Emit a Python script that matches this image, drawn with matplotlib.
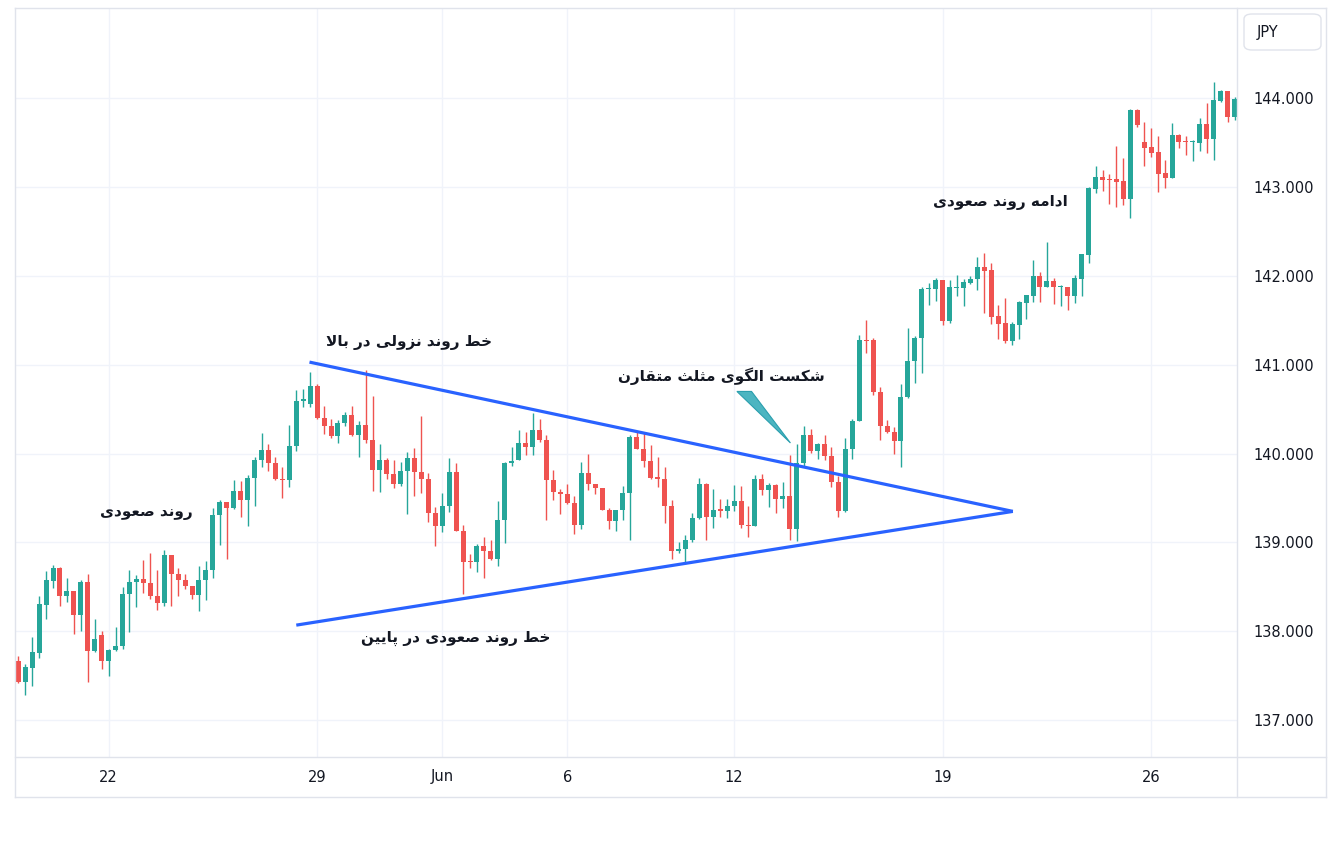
import matplotlib

matplotlib.use("Agg")
import matplotlib.pyplot as plt
from matplotlib.lines import Line2D
from matplotlib.patches import FancyBboxPatch, Polygon

# 4h candles, USD/JPY, mid May -> end of June
opens = [
    137.67, 137.43, 137.59, 137.76, 138.30, 138.57, 138.71, 138.40, 138.45, 138.18,
    138.56, 137.78, 137.96, 137.67, 137.79, 137.83, 138.42, 138.56, 138.59, 138.54,
    138.40, 138.32, 138.86, 138.64, 138.58, 138.51, 138.41, 138.58, 138.69, 139.31,
    139.46, 139.39, 139.58, 139.48, 139.73, 139.93, 140.04, 139.89, 139.71, 139.70,
    140.09, 140.59, 140.56, 140.76, 140.40, 140.31, 140.20, 140.35, 140.43, 140.21,
    140.32, 140.15, 139.82, 139.93, 139.77, 139.66, 139.80, 139.95, 139.79, 139.71,
    139.33, 139.19, 139.41, 139.79, 139.13, 138.79, 138.78, 138.96, 138.90, 138.81,
    139.25, 139.90, 139.93, 140.12, 140.07, 140.27, 140.15, 139.70, 139.57, 139.55,
    139.44, 139.20, 139.78, 139.66, 139.61, 139.37, 139.24, 139.37, 139.56, 140.19,
    140.05, 139.92, 139.73, 139.72, 139.41, 138.90, 138.93, 139.03, 139.28, 139.66,
    139.29, 139.37, 139.36, 139.41, 139.47, 139.20, 139.19, 139.71, 139.59, 139.65,
    139.49, 139.52, 139.15, 139.90, 140.21, 140.03, 140.11, 139.97, 139.68, 139.36,
    140.05, 140.37, 141.28, 141.28, 140.69, 140.31, 140.24, 140.14, 140.64, 141.04,
    141.30, 141.85, 141.85, 141.95, 141.49, 141.86, 141.86, 141.92, 141.96, 142.10,
    142.07, 141.55, 141.47, 141.27, 141.45, 141.70, 141.77, 142.00, 141.87, 141.94,
    141.87, 141.88, 141.77, 141.97, 142.24, 142.98, 143.11, 143.09, 143.09, 143.07,
    142.87, 143.87, 143.51, 143.45, 143.39, 143.16, 143.10, 143.59, 143.52, 143.51,
    143.50, 143.71, 143.54, 143.97, 144.08, 143.79,
]
highs = [
    137.72, 137.63, 137.94, 138.40, 138.68, 138.75, 138.72, 138.60, 138.45, 138.58,
    138.65, 138.14, 138.00, 137.80, 138.05, 138.50, 138.69, 138.63, 138.80, 138.88,
    138.69, 138.92, 138.86, 138.71, 138.65, 138.51, 138.74, 138.79, 139.39, 139.48,
    139.46, 139.70, 139.69, 139.76, 139.96, 140.23, 140.11, 139.96, 139.85, 140.32,
    140.72, 140.73, 140.92, 140.78, 140.54, 140.39, 140.38, 140.47, 140.54, 140.37,
    140.94, 140.65, 140.11, 139.95, 139.93, 139.91, 140.02, 140.06, 140.42, 139.78,
    139.40, 139.56, 139.95, 139.89, 139.20, 138.87, 138.98, 139.06, 139.03, 139.47,
    139.91, 140.08, 140.27, 140.24, 140.46, 140.39, 140.21, 139.82, 139.60, 139.66,
    139.52, 139.91, 140.00, 139.66, 139.61, 139.39, 139.37, 139.64, 140.21, 140.25,
    140.23, 140.10, 139.96, 139.85, 139.48, 139.01, 139.08, 139.33, 139.73, 139.67,
    139.60, 139.49, 139.49, 139.65, 139.64, 139.41, 139.76, 139.77, 139.67, 139.66,
    139.68, 139.98, 140.11, 140.31, 140.28, 140.12, 140.21, 140.07, 139.75, 140.18,
    140.39, 141.34, 141.50, 141.30, 140.75, 140.38, 140.30, 140.78, 141.41, 141.32,
    141.87, 141.92, 141.98, 141.95, 141.95, 142.01, 141.97, 142.00, 142.21, 142.26,
    142.15, 141.67, 141.75, 141.48, 141.72, 141.79, 142.18, 142.04, 142.38, 141.98,
    141.90, 141.88, 142.01, 142.25, 143.00, 143.24, 143.19, 143.15, 143.46, 143.33,
    143.88, 143.88, 143.73, 143.66, 143.57, 143.30, 143.72, 143.60, 143.58, 143.53,
    143.78, 143.95, 144.18, 144.09, 144.08, 144.01,
]
lows = [
    137.42, 137.28, 137.39, 137.70, 138.14, 138.49, 138.28, 138.33, 137.97, 138.00,
    137.43, 137.77, 137.58, 137.50, 137.78, 137.80, 137.99, 138.27, 138.43, 138.36,
    138.24, 138.29, 138.29, 138.40, 138.48, 138.36, 138.23, 138.35, 138.60, 138.97,
    138.81, 139.38, 139.29, 139.19, 139.41, 139.85, 139.80, 139.70, 139.50, 139.63,
    140.03, 140.53, 140.52, 140.39, 140.22, 140.18, 140.12, 140.31, 140.20, 139.96,
    140.12, 139.58, 139.57, 139.71, 139.61, 139.64, 139.32, 139.52, 139.56, 139.23,
    138.96, 139.12, 139.34, 139.13, 138.42, 138.71, 138.67, 138.60, 138.80, 138.74,
    138.99, 139.86, 139.93, 139.99, 139.98, 140.13, 139.25, 139.48, 139.32, 139.43,
    139.10, 139.15, 139.59, 139.55, 139.37, 139.15, 139.13, 139.25, 139.03, 140.05,
    139.85, 139.71, 139.62, 139.22, 138.81, 138.88, 138.76, 139.01, 139.27, 139.03,
    139.16, 139.29, 139.28, 139.36, 139.16, 139.06, 139.19, 139.53, 139.40, 139.33,
    139.39, 139.03, 139.02, 139.86, 140.01, 139.94, 139.93, 139.62, 139.29, 139.34,
    139.94, 140.37, 141.13, 140.66, 140.15, 140.23, 140.00, 139.85, 140.63, 140.80,
    140.91, 141.67, 141.72, 141.45, 141.47, 141.77, 141.66, 141.91, 141.84, 141.58,
    141.46, 141.29, 141.25, 141.22, 141.29, 141.52, 141.71, 141.71, 141.87, 141.68,
    141.66, 141.62, 141.69, 141.77, 142.15, 142.93, 142.96, 142.81, 142.78, 142.80,
    142.65, 143.68, 143.24, 143.34, 142.94, 142.99, 143.10, 143.44, 143.36, 143.29,
    143.41, 143.38, 143.30, 143.96, 143.73, 143.76,
]
closes = [
    137.43, 137.60, 137.77, 138.31, 138.58, 138.71, 138.40, 138.45, 138.18, 138.56,
    137.78, 137.91, 137.67, 137.79, 137.83, 138.42, 138.56, 138.59, 138.54, 138.40,
    138.32, 138.86, 138.64, 138.58, 138.51, 138.41, 138.58, 138.69, 139.31, 139.46,
    139.39, 139.58, 139.48, 139.73, 139.93, 140.04, 139.89, 139.71, 139.70, 140.09,
    140.59, 140.61, 140.76, 140.40, 140.31, 140.20, 140.35, 140.43, 140.21, 140.32,
    140.15, 139.82, 139.93, 139.77, 139.66, 139.80, 139.95, 139.79, 139.71, 139.33,
    139.19, 139.41, 139.79, 139.13, 138.78, 138.78, 138.96, 138.90, 138.81, 139.25,
    139.90, 139.92, 140.12, 140.07, 140.27, 140.15, 139.70, 139.57, 139.55, 139.44,
    139.20, 139.78, 139.66, 139.61, 139.37, 139.24, 139.37, 139.56, 140.19, 140.05,
    139.92, 139.73, 139.72, 139.41, 138.90, 138.93, 139.03, 139.28, 139.66, 139.29,
    139.37, 139.36, 139.41, 139.47, 139.20, 139.19, 139.71, 139.59, 139.65, 139.49,
    139.52, 139.15, 139.90, 140.21, 140.03, 140.11, 139.97, 139.68, 139.36, 140.05,
    140.37, 141.28, 141.27, 140.69, 140.31, 140.24, 140.14, 140.64, 141.04, 141.30,
    141.85, 141.86, 141.95, 141.49, 141.87, 141.87, 141.93, 141.97, 142.10, 142.06,
    141.54, 141.46, 141.27, 141.46, 141.71, 141.79, 142.00, 141.87, 141.94, 141.87,
    141.88, 141.77, 141.98, 142.25, 142.99, 143.11, 143.08, 143.08, 143.06, 142.87,
    143.87, 143.70, 143.44, 143.38, 143.15, 143.10, 143.59, 143.51, 143.51, 143.52,
    143.71, 143.54, 143.98, 144.08, 143.79, 143.99,
]

day_tick_idx = [13, 43, 61, 79, 103, 133, 163]
day_tick_labels = ["22", "29", "Jun", "6", "12", "19", "26"]
price_ticks = [137, 138, 139, 140, 141, 142, 143, 144]

# triangle trend lines (candle index, price)
upper_line = ([41.9, 143.1], [141.03, 139.35])
lower_line = ([40.0, 143.1], [138.07, 139.35])

notes = [
    ("روند صعودی", 18.4, 139.34),
    ("خط روند نزولی در بالا", 56.2, 141.25),
    ("خط روند صعودی در پایین", 63.0, 137.92),
    ("شکست الگوی مثلث متقارن", 101.1, 140.87),
    ("ادامه روند صعودی", 141.3, 142.83),
]

UP = "#26a69a"
DOWN = "#ef5350"
GRID = "#f0f3fa"
BORDER = "#e0e3eb"
TXT = "#131722"

# arabic presentation forms: isolated, final, initial, medial
FORMS = {
    "ا": ("\uFE8D", "\uFE8E", None, None),
    "ب": ("\uFE8F", "\uFE90", "\uFE91", "\uFE92"),
    "پ": ("\uFB56", "\uFB57", "\uFB58", "\uFB59"),
    "ت": ("\uFE95", "\uFE96", "\uFE97", "\uFE98"),
    "ث": ("\uFE99", "\uFE9A", "\uFE9B", "\uFE9C"),
    "خ": ("\uFEA5", "\uFEA6", "\uFEA7", "\uFEA8"),
    "د": ("\uFEA9", "\uFEAA", None, None),
    "ر": ("\uFEAD", "\uFEAE", None, None),
    "ز": ("\uFEAF", "\uFEB0", None, None),
    "س": ("\uFEB1", "\uFEB2", "\uFEB3", "\uFEB4"),
    "ش": ("\uFEB5", "\uFEB6", "\uFEB7", "\uFEB8"),
    "ص": ("\uFEB9", "\uFEBA", "\uFEBB", "\uFEBC"),
    "ط": ("\uFEC1", "\uFEC2", "\uFEC3", "\uFEC4"),
    "ع": ("\uFEC9", "\uFECA", "\uFECB", "\uFECC"),
    "ق": ("\uFED5", "\uFED6", "\uFED7", "\uFED8"),
    "ک": ("\uFB8E", "\uFB8F", "\uFB90", "\uFB91"),
    "گ": ("\uFB92", "\uFB93", "\uFB94", "\uFB95"),
    "ل": ("\uFEDD", "\uFEDE", "\uFEDF", "\uFEE0"),
    "م": ("\uFEE1", "\uFEE2", "\uFEE3", "\uFEE4"),
    "ن": ("\uFEE5", "\uFEE6", "\uFEE7", "\uFEE8"),
    "ه": ("\uFEE9", "\uFEEA", "\uFEEB", "\uFEEC"),
    "و": ("\uFEED", "\uFEEE", None, None),
    "ی": ("\uFBFC", "\uFBFD", "\uFBFE", "\uFBFF"),
}


def _joins_next(c):
    return c in FORMS and FORMS[c][2] is not None


def shape_rtl(text):
    """Very small persian shaper: contextual forms + lam-alef, then reverse."""
    out = []
    i = 0
    n = len(text)
    while i < n:
        c = text[i]
        prev_joins = i > 0 and _joins_next(text[i - 1])
        if c == "ل" and i + 1 < n and text[i + 1] == "ا":
            out.append("\uFEFC" if prev_joins else "\uFEFB")
            i += 2
            continue
        if c not in FORMS:
            out.append(c)
            i += 1
            continue
        nxt_joins = _joins_next(c) and i + 1 < n and text[i + 1] in FORMS
        iso, fin, ini, med = FORMS[c]
        if prev_joins and nxt_joins:
            out.append(med)
        elif prev_joins:
            out.append(fin)
        elif nxt_joins:
            out.append(ini)
        else:
            out.append(iso)
        i += 1
    return "".join(reversed(out))


W, H = 1341, 851
fig = plt.figure(figsize=(W / 100, H / 100), dpi=100)
fig.patch.set_facecolor("white")
ax = fig.add_axes([15 / W, (H - 757) / H, (1237 - 15) / W, (757 - 8) / H])

n = len(opens)
xs = list(range(n))
colors = [UP if c >= o else DOWN for o, c in zip(opens, closes)]
ax.vlines(xs, lows, highs, colors=colors, linewidth=1.0, zorder=3)
bottoms = [min(o, c) for o, c in zip(opens, closes)]
heights = [max(abs(c - o), 0.012) for o, c in zip(opens, closes)]
ax.bar(xs, heights, bottom=bottoms, width=0.72, color=colors, linewidth=0, zorder=4)

ax.plot(*upper_line, color="#2962ff", linewidth=2.3, solid_capstyle="butt", zorder=5)
ax.plot(*lower_line, color="#2962ff", linewidth=2.3, solid_capstyle="butt", zorder=5)

# callout wedge pointing at the breakout
ax.add_patch(Polygon([(103.4, 140.70), (105.5, 140.70), (111.1, 140.12)], closed=True,
                     facecolor="#4cb5c1", edgecolor="#2a9fae", linewidth=0.8, zorder=6))

for text, x, y in notes:
    ax.text(x, y, shape_rtl(text), ha="center", va="center", fontsize=11,
            fontweight="bold", color=TXT, family="DejaVu Sans", zorder=7)

ax.set_xlim(-0.47, 175.35)
ax.set_ylim(136.586, 145.015)
ax.set_xticks(day_tick_idx)
ax.set_xticklabels(day_tick_labels)
ax.set_yticks(price_ticks)
ax.set_yticklabels([f"{p:.3f}" for p in price_ticks])
ax.yaxis.tick_right()
ax.tick_params(axis="both", length=0, labelsize=10.5, labelcolor=TXT)
ax.tick_params(axis="x", pad=9)
ax.tick_params(axis="y", pad=12)
ax.grid(True, color=GRID, linewidth=1.0, zorder=0)
ax.set_axisbelow(True)
for side in ["left", "right", "top", "bottom"]:
    ax.spines[side].set_visible(False)

# chart frame (plot pane, time scale, price scale)
def fline(x0, y0, x1, y1):
    fig.add_artist(Line2D([x0 / W, x1 / W], [1 - y0 / H, 1 - y1 / H],
                          color=BORDER, linewidth=1.0))

fline(15, 8, 15, 797)
fline(15, 797, 1326, 797)
fline(1326, 8, 1326, 797)
fline(15, 8, 1326, 8)
fline(15, 757, 1326, 757)
fline(1237, 8, 1237, 797)

fig.add_artist(FancyBboxPatch((1244 / W, 1 - 50 / H), 77 / W, 36 / H,
                              boxstyle="round,pad=0,rounding_size=0.006",
                              transform=fig.transFigure, facecolor="white",
                              edgecolor=BORDER, linewidth=1.0))
fig.text(1257 / W, 1 - 32 / H, "JPY", ha="left", va="center", fontsize=10.5, color=TXT)

fig.savefig("out.png", dpi=100, facecolor="white")
